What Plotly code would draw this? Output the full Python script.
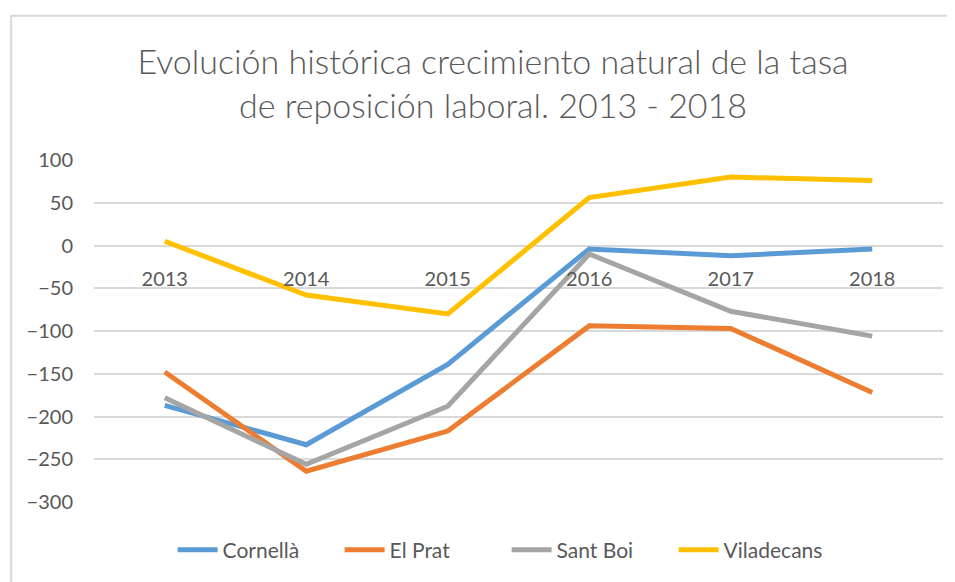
import plotly.graph_objects as go

years = ["2013", "2014", "2015", "2016", "2017", "2018"]
cornella = [-187, -233, -139, -4, -12, -4]
el_prat = [-148, -264, -217, -94, -97, -172]
sant_boi = [-178, -256, -188, -10, -77, -106]
viladecans = [5, -58, -80, 56, 80, 76]

series = [
    ("Cornellà", cornella, "#5B9BD5"),
    ("El Prat", el_prat, "#ED7D31"),
    ("Sant Boi", sant_boi, "#A5A5A5"),
    ("Viladecans", viladecans, "#FFC000"),
]

text_color = "#595959"
font_family = "Lato, 'Open Sans', sans-serif"

fig = go.Figure()
for name, values, color in series:
    fig.add_trace(go.Scatter(
        x=years,
        y=values,
        name=name,
        mode="lines",
        line=dict(color=color, width=5),
    ))

# page body keeps an 8px margin, so the figure is 8px smaller than the window
fig.update_layout(
    width=947,
    height=574,
    paper_bgcolor="white",
    plot_bgcolor="white",
    margin=dict(l=85.5, r=11.5, t=151.5, b=80.3),
    title=dict(
        text="Evolución histórica crecimiento natural de la tasa<br>de reposición laboral. 2013 - 2018",
        x=0.47,
        xref="paper",
        xanchor="center",
        y=0.885,
        yref="container",
        yanchor="top",
        font=dict(family=font_family, size=34, color=text_color, weight=300),
    ),
    font=dict(family=font_family, color=text_color),
    showlegend=True,
    legend=dict(
        orientation="h",
        x=0.486,
        xanchor="center",
        y=-0.141,
        yanchor="middle",
        font=dict(size=21, color=text_color),
        itemwidth=40,
        entrywidth=112,
        entrywidthmode="pixels",
        tracegroupgap=0,
    ),
    shapes=[dict(
        type="rect",
        xref="paper",
        yref="paper",
        x0=-0.0976,
        x1=1.2,
        y0=-0.4,
        y1=1.422,
        line=dict(color="#D9D9D9", width=2),
        fillcolor="rgba(0,0,0,0)",
        layer="below",
    )],
)

fig.update_xaxes(
    type="category",
    range=[-0.5, 5.5],
    showgrid=False,
    showline=False,
    zeroline=False,
    anchor="free",
    position=0.75,
    ticks="outside",
    ticklen=15,
    tickcolor="rgba(0,0,0,0)",
    tickfont=dict(size=20, color=text_color),
)

fig.update_yaxes(
    range=[-300, 100],
    dtick=50,
    tick0=0,
    showgrid=True,
    gridcolor="#D9D9D9",
    gridwidth=1.5,
    zeroline=False,
    showline=False,
    ticks="",
    ticklabelstandoff=20,
    tickfont=dict(size=20, color=text_color),
)

fig.write_html("out.html")
